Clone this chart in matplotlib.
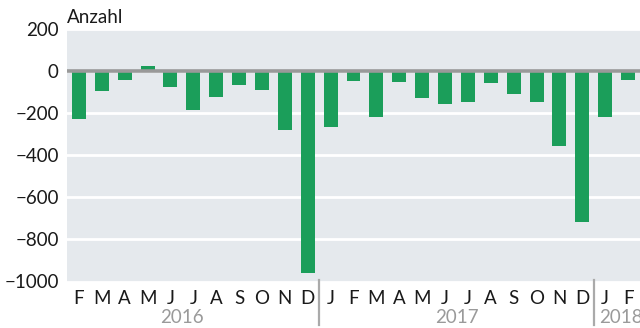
import matplotlib
matplotlib.use("Agg")
import matplotlib.pyplot as plt
import matplotlib.transforms as mtransforms

plt.rcParams["font.family"] = ["Lato", "DejaVu Sans"]

months = ["F", "M", "A", "M", "J", "J", "A", "S", "O", "N", "D",
          "J", "F", "M", "A", "M", "J", "J", "A", "S", "O", "N", "D",
          "J", "F"]
values = [-226, -92, -41, 27, -73, -184, -122, -65, -89, -280, -959,
          -264, -45, -216, -50, -126, -154, -145, -54, -107, -145, -354, -716,
          -216, -40]
years = ["2016", "2017", "2018"]
year_centers = [4.5, 16.5, None]
year_breaks = [10.5, 22.5]
yticks = [200, 0, -200, -400, -600, -800, -1000]

BAR = "#1b9e5a"
BG = "#e5e9ed"
TXT = "#1a1a1a"
YEARC = "#9a9a9a"

fig = plt.figure(figsize=(6.4, 3.28), dpi=100)
# axes box: x 67..640 px, y 29.3..281.5 px from top
ax = fig.add_axes([67 / 640, 46.5 / 328, 1 - 67 / 640, 252.2 / 328])
ax.set_facecolor(BG)

x = list(range(len(values)))
ax.bar(x, values, width=0.61, color=BAR, zorder=2)
ax.axhline(0, color="#999999", linewidth=2.6, zorder=3)

ax.set_xlim(-0.52, 24.52)
ax.set_ylim(-1000, 200)
ax.set_yticks(yticks)
ax.set_yticklabels([f"{v}".replace("-", "\u2212") for v in yticks])
ax.yaxis.grid(True, color="white", linewidth=2, zorder=1)
ax.set_axisbelow(True)
ax.set_xticks(x)
ax.set_xticklabels(months)
ax.tick_params(axis="both", length=0, labelsize=13.5, colors=TXT)
ax.tick_params(axis="y", pad=6)
ax.tick_params(axis="x", pad=6)
for s in ax.spines.values():
    s.set_visible(False)

trans = mtransforms.blended_transform_factory(ax.transData, ax.transAxes)
for xb in year_breaks:
    ax.plot([xb, xb], [0.005, -0.172], transform=trans, color="#aaaaaa",
            linewidth=1.6, clip_on=False)
for yr, xc in zip(years, year_centers):
    if xc is None:
        ax.text(year_breaks[-1] + 0.22, -0.142, yr, transform=trans, ha="left",
                va="center", fontsize=13.5, color=YEARC, clip_on=False)
    else:
        ax.text(xc, -0.142, yr, transform=trans, ha="center", va="center",
                fontsize=13.5, color=YEARC, clip_on=False)

fig.text(67 / 640, 1 - 23 / 328, "Anzahl", ha="left", va="baseline",
         fontsize=13.5, color=TXT)

fig.savefig("out.png", dpi=100)
